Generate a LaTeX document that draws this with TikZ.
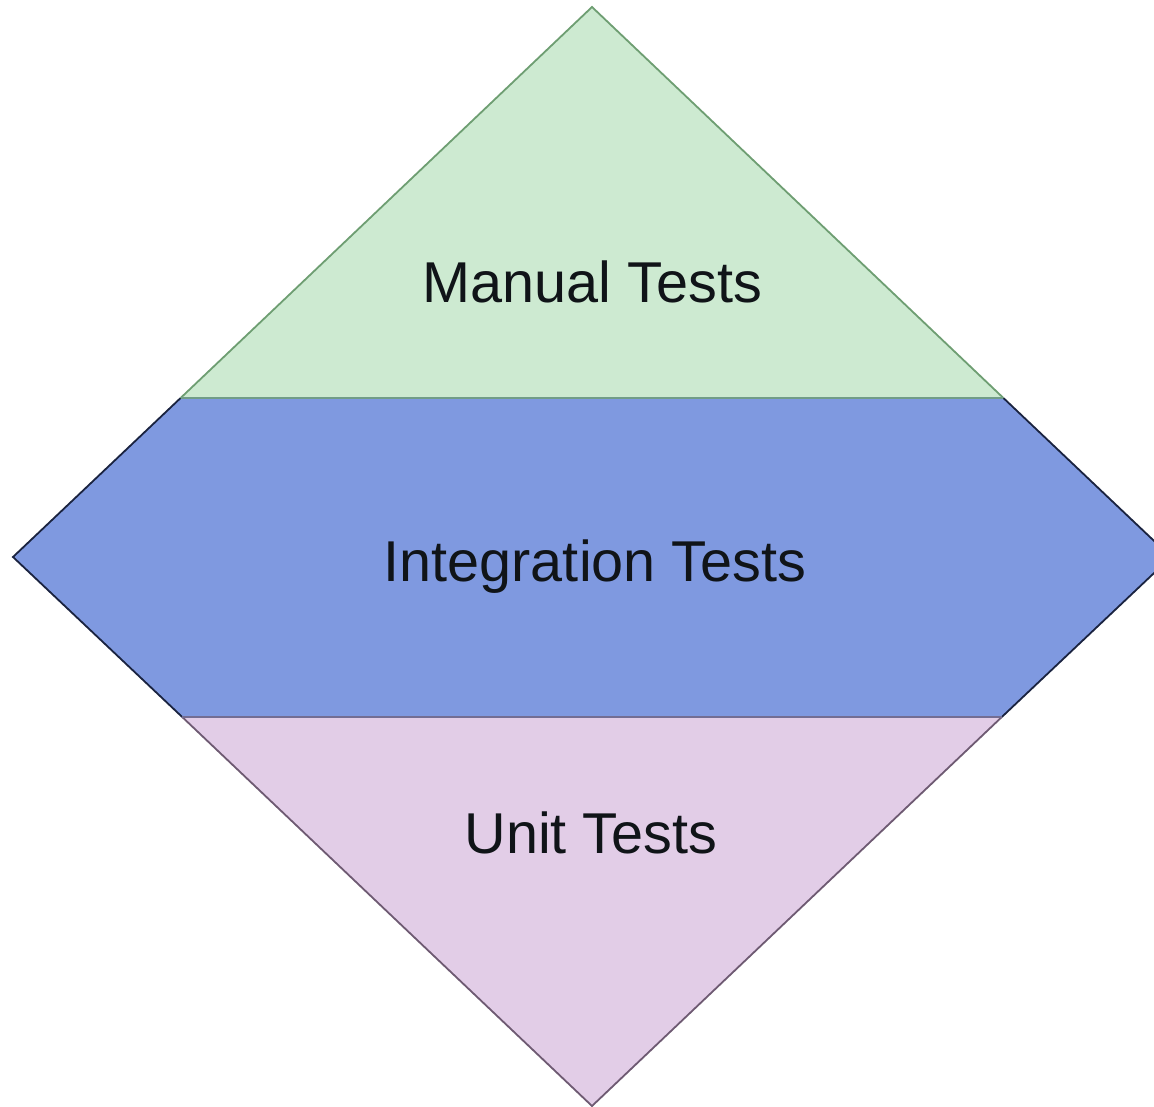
\documentclass[tikz,border=0pt]{standalone}
\usepackage{fontspec}
\setmainfont{Liberation Sans}
\definecolor{mgreen}{HTML}{CDEAD1}
\definecolor{mgreenline}{HTML}{6E9E72}
\definecolor{iblue}{HTML}{7F99E0}
\definecolor{iblueline}{HTML}{1A2340}
\definecolor{upurple}{HTML}{E2CDE7}
\definecolor{upurpleline}{HTML}{6E5A72}
\definecolor{labeltext}{HTML}{101418}
\tikzset{
  lbl/.style={anchor=base, inner sep=0pt, text=labeltext, font=\fontsize{57.6}{68}\selectfont},
  band/.style={line width=1.8pt, line join=miter}
}
\begin{document}
\begin{tikzpicture}[x=1pt,y=-1pt]
\useasboundingbox (0,0) rectangle (1154,1107);
\fill[white] (0,0) rectangle (1154,1107);
% diamond corners: top (592,7), left (13,557), bottom (592,1106), right (1171,557)
\coordinate (T) at (592,7);
\coordinate (L) at (13,557);
\coordinate (B) at (592,1106);
\coordinate (R) at (1171,557);
\coordinate (ML) at (180.6,398);
\coordinate (MR) at (1003.4,398);
\coordinate (NL) at (182.2,717);
\coordinate (NR) at (1001.8,717);
% middle band
\fill[iblue] (ML) -- (MR) -- (R) -- (NR) -- (NL) -- (L) -- cycle;
\draw[band, draw=iblueline] (ML) -- (L) -- (NL);
\draw[band, draw=iblueline] (MR) -- (R) -- (NR);
% top triangle
\fill[mgreen] (T) -- (MR) -- (ML) -- cycle;
\draw[band, draw=mgreenline] (ML) -- (T) -- (MR);
\draw[line width=1.4pt, draw=mgreenline!80!iblue] (ML) -- (MR);
% bottom triangle
\fill[upurple] (NL) -- (NR) -- (B) -- cycle;
\draw[band, draw=upurpleline] (NL) -- (B) -- (NR);
\draw[line width=1.4pt, draw=upurpleline!70!iblue] (NL) -- (NR);
% labels
\node[lbl] (manual) at (592.5,303) {Manual Tests};
\node[lbl] (integration) at (595,581) {Integration Tests};
\node[lbl] (unit) at (591,853) {Unit Tests};
\end{tikzpicture}
\end{document}
